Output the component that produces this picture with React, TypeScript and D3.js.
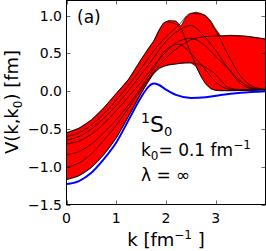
import React, { useRef, useEffect } from "react";
import * as d3 from "d3";

// k grid (fm^-1) shared by the individual potentials
const kGrid = [0, 0.25, 0.5, 0.75, 1, 1.25, 1.5, 1.75, 2, 2.25, 2.5, 2.75, 3, 3.25, 3.5, 3.75, 4];

const curveA = [-0.55, -0.49, -0.38, -0.22, -0.03, 0.16, 0.42, 0.66, 0.92, 0.87, 0.5, 0.145, 0.015, 0.008, 0.01, 0.015, 0.02];
const curveB = [-0.6, -0.55, -0.45, -0.3, -0.12, 0.08, 0.3, 0.53, 0.72, 0.87, 1.03, 1.01, 0.8, 0.48, 0.2, 0.06, 0.025];
const curveC = [-0.65, -0.6, -0.5, -0.36, -0.19, 0.01, 0.22, 0.44, 0.66, 0.8, 0.87, 0.74, 0.54, 0.3, 0.1, 0.03, 0.02];
const curveD = [-0.7, -0.66, -0.57, -0.43, -0.26, -0.07, 0.12, 0.33, 0.52, 0.66, 0.7, 0.62, 0.46, 0.3, 0.13, 0.04, 0.02];
const curveE = [-0.84, -0.8, -0.7, -0.55, -0.38, -0.18, 0.05, 0.3, 0.55, 0.62, 0.5, 0.32, 0.12, 0.03, 0.015, 0.012, 0.02];
const curveF = [-1.01, -0.95, -0.83, -0.65, -0.45, -0.22, 0.02, 0.25, 0.44, 0.58, 0.68, 0.72, 0.73, 0.735, 0.73, 0.715, 0.69];
const curveG = [-1.17, -1.12, -1.01, -0.84, -0.62, -0.33, -0.03, 0.23, 0.34, 0.365, 0.375, 0.33, 0.22, 0.05, 0.02, 0.015, 0.02];

// red band edges
const bandK = [0, 0.25, 0.5, 0.75, 1.0, 1.25, 1.5, 1.65, 1.75, 1.85, 1.95, 2.05, 2.2, 2.3, 2.4, 2.5, 2.6, 2.7, 2.8, 2.9, 3.0, 3.1, 3.3, 3.6, 4.0];
const bandUpper = [-0.55, -0.49, -0.38, -0.22, -0.03, 0.16, 0.42, 0.57, 0.66, 0.8, 0.9, 0.935, 0.93, 0.86, 0.98, 1.03, 1.045, 1.03, 1.0, 0.93, 0.82, 0.73, 0.74, 0.73, 0.69];
const bandLower = [-1.17, -1.12, -1.01, -0.84, -0.62, -0.33, -0.03, 0.13, 0.23, 0.3, 0.33, 0.345, 0.36, 0.37, 0.375, 0.375, 0.33, 0.2, 0.09, 0.03, 0.01, 0.005, 0.005, 0.01, 0.02];

// blue curve
const blueK = [0, 0.25, 0.5, 0.75, 1.0, 1.25, 1.5, 1.65, 1.75, 1.85, 2.0, 2.2, 2.5, 2.8, 3.1, 3.5, 4.0];
const blueV = [-1.23, -1.19, -1.08, -0.9, -0.68, -0.38, -0.08, 0.06, 0.1, 0.085, 0.02, -0.05, -0.09, -0.08, -0.05, -0.02, 0.0];

const xTicks = [0, 1, 2, 3];
const yTicks = [1.0, 0.5, 0.0, -0.5, -1.0, -1.5];

function App() {
  const svgRef = useRef(null);

  useEffect(() => {
    const svg = d3.select(svgRef.current);
    svg.selectAll("*").remove();
    svg.style("font-family", "'DejaVu Sans', sans-serif");

    const x = d3.scaleLinear().domain([0, 4]).range([66.5, 265.5]);
    const y = d3.scaleLinear().domain([-1.5, 1.2]).range([204.5, 0.5]);

    svg.append("defs").append("clipPath").attr("id", "plotArea").append("rect")
      .attr("x", x(0)).attr("y", y(1.2))
      .attr("width", x(4) - x(0)).attr("height", y(-1.5) - y(1.2));

    const g = svg.append("g").attr("clip-path", "url(#plotArea)");

    const bandArea = d3
      .area()
      .x((d, i) => x(bandK[i]))
      .y0((d, i) => y(bandLower[i]))
      .y1((d, i) => y(bandUpper[i]));

    g.append("path")
      .attr("d", bandArea(bandK))
      .attr("fill", "#ff0000")
      .attr("stroke", "#000")
      .attr("stroke-width", 0.7);

    const line = d3
      .line()
      .x((d, i) => x(kGrid[i]))
      .y((d) => y(d))
      .curve(d3.curveMonotoneX);

    [curveA, curveB, curveC, curveD, curveE, curveF, curveG].forEach((c) => {
      g.append("path")
        .attr("d", line(c))
        .attr("fill", "none")
        .attr("stroke", "#000")
        .attr("stroke-width", 0.7);
    });

    const blueLine = d3
      .line()
      .x((d, i) => x(blueK[i]))
      .y((d) => y(d))
      .curve(d3.curveMonotoneX);
    g.append("path")
      .attr("d", blueLine(blueV))
      .attr("fill", "none")
      .attr("stroke", "#0000ff")
      .attr("stroke-width", 2);

    // frame
    svg.append("rect")
      .attr("x", x(0)).attr("y", y(1.2))
      .attr("width", x(4) - x(0)).attr("height", y(-1.5) - y(1.2))
      .attr("fill", "none").attr("stroke", "#000").attr("stroke-width", 1);

    // ticks point inward on all four sides
    const tl = 4;
    xTicks.forEach((t) => {
      const px = Math.round(x(t)) + 0.5;
      svg.append("line").attr("x1", px).attr("x2", px).attr("y1", y(-1.5)).attr("y2", y(-1.5) - tl)
        .attr("stroke", "#000").attr("stroke-width", 0.6);
      svg.append("line").attr("x1", px).attr("x2", px).attr("y1", y(1.2)).attr("y2", y(1.2) + tl)
        .attr("stroke", "#000").attr("stroke-width", 0.6);
      svg.append("text").attr("x", x(t)).attr("y", 223)
        .attr("text-anchor", "middle").attr("font-size", 14).text(String(t));
    });
    yTicks.forEach((t) => {
      const py = Math.round(y(t)) + 0.5;
      svg.append("line").attr("x1", x(0)).attr("x2", x(0) + tl).attr("y1", py).attr("y2", py)
        .attr("stroke", "#000").attr("stroke-width", 0.6);
      svg.append("line").attr("x1", x(4)).attr("x2", x(4) - tl).attr("y1", py).attr("y2", py)
        .attr("stroke", "#000").attr("stroke-width", 0.6);
      svg.append("text").attr("x", 62).attr("y", y(t) + 5)
        .attr("text-anchor", "end").attr("font-size", 14)
        .text(d3.format(".1f")(t).replace("-", "\u2212"));
    });

    // axis labels
    const xl = svg.append("text").attr("x", 166).attr("y", 246)
      .attr("text-anchor", "middle").attr("font-size", 18);
    xl.append("tspan").text("k [fm");
    xl.append("tspan").attr("font-size", 12).attr("dy", -7).text("\u22121");
    xl.append("tspan").attr("dy", 7).text(" ]");

    const yl = svg.append("text").attr("transform", "translate(18,102) rotate(-90)")
      .attr("text-anchor", "middle").attr("font-size", 18);
    yl.append("tspan").text("V(k,k");
    yl.append("tspan").attr("font-size", 12).attr("dy", 4).text("0");
    yl.append("tspan").attr("dy", -4).text(") [fm]");

    // annotations
    svg.append("text").attr("x", 77).attr("y", 23).attr("font-size", 17).text("(a)");

    const s0 = svg.append("text").attr("x", 141).attr("y", 132);
    s0.append("tspan").attr("font-size", 14).attr("dy", -9).text("1");
    s0.append("tspan").attr("font-size", 22).attr("dy", 9).text("S");
    s0.append("tspan").attr("font-size", 13).attr("dy", 4).text("0");

    const k0 = svg.append("text").attr("x", 141).attr("y", 156).attr("font-size", 17);
    k0.append("tspan").text("k");
    k0.append("tspan").attr("font-size", 12).attr("dy", 4).text("0");
    k0.append("tspan").attr("dy", -4).text("= 0.1 fm");
    k0.append("tspan").attr("font-size", 12).attr("dy", -7).text("\u22121");

    svg.append("text").attr("x", 141).attr("y", 181).attr("font-size", 17).text("\u03bb = \u221e");
  }, []);

  return (
    <svg
      ref={svgRef}
      width={266}
      height={251}
      style={{ position: "absolute", left: 0, top: 0, background: "#fff" }}
    />
  );
}

export default App;
